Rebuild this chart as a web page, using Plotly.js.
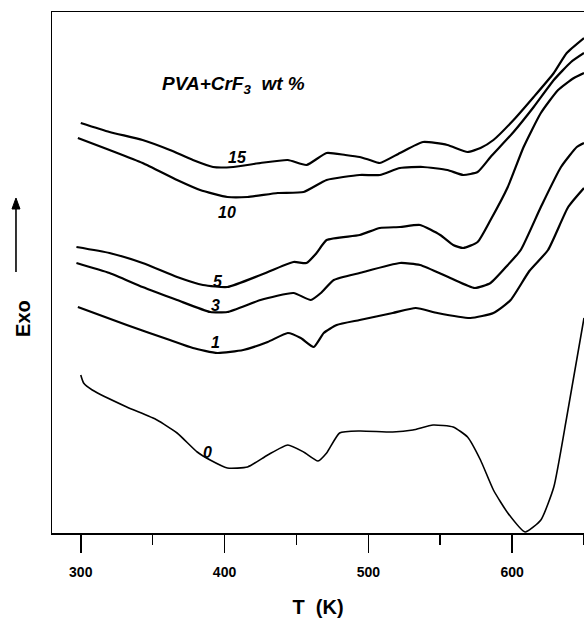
<!DOCTYPE html>
<html>
<head>
<meta charset="utf-8">
<script src="https://cdn.plot.ly/plotly-3.0.1.min.js"></script>
<style>html,body{margin:0;padding:0;background:#fff;}#chart{width:584px;height:618px;}</style>
</head>
<body>
<div id="chart"></div>
<script>
// Temperatures (K) and exo heat flow (arbitrary units)
const T0 = [300,302,308,332,353,367,381,390,402,416,430,444,455,465,471,480,494,517,531,545,559,569,578,587,597,609,620,629,638,650];
const Y0 = [158,150,143,126,113,100,81,73,65,66,78,88,81,72,80,100,102,101,103,108,106,96,73,43,20,1,13,46,116,215];

const T1 = [298,332,362,378,395,413,430,444,453,462,469,478,494,517,533,548,571,587,599,612,625,639,650];
const Y1 = [226,208,193,185,180,183,191,200,195,186,200,208,213,220,225,220,215,220,233,262,283,326,345];

const T3 = [297,320,343,367,390,402,425,448,460,467,476,494,522,536,557,574,585,597,606,620,634,645,650];
const Y3 = [270,260,246,233,221,221,233,240,233,240,253,260,270,268,255,245,250,268,283,326,366,386,390];

const T5 = [297,320,343,367,385,402,425,448,457,464,471,494,508,522,536,550,559,566,576,585,597,608,620,632,643,650];
const Y5 = [286,280,270,256,248,246,258,271,270,280,293,298,305,306,308,298,288,285,291,313,346,386,420,443,455,460];

const T10 = [298,320,343,367,383,402,416,437,455,471,494,508,522,538,555,566,576,585,601,615,629,641,650];
const Y10 = [395,383,370,353,343,336,336,340,341,353,358,358,365,366,363,358,361,376,401,426,453,471,480];

const T15 = [300,320,343,362,378,392,406,425,444,457,471,484,494,501,508,522,538,555,569,578,587,601,615,629,638,650];
const Y15 = [410,401,393,383,373,366,366,370,373,368,380,378,376,373,370,380,391,388,381,385,393,413,436,460,480,495];

const seriesNames = ['0','1','3','5','10','15'];
const seriesT = [T0,T1,T3,T5,T10,T15];
const seriesY = [Y0,Y1,Y3,Y5,Y10,Y15];

// label anchor points (T, y) for each curve's wt% label
const labelT = [388,394,393.5,395.5,402,409];
const labelY = [81,191,228,252,321,376];

const xTicks = [300,400,500,600];

const traces = seriesNames.map((n,i)=>({
  x: seriesT[i], y: seriesY[i], type:'scatter', mode:'lines', name: n + ' wt %',
  line:{color:'#000', width: i===0 ? 1.6 : 2.2, shape:'spline', smoothing:0.5},
  hoverinfo:'skip', showlegend:false
}));

const annotations = seriesNames.map((n,i)=>({
  x: labelT[i], y: labelY[i], xref:'x', yref:'y', text:'<b><i>'+n+'</i></b>',
  showarrow:false, font:{family:'Liberation Sans, Arial, sans-serif', size:16, color:'#000'},
  xanchor:'center', yanchor:'middle'
}));

annotations.push({
  xref:'paper', yref:'paper', x:0.203, y:0.86, xanchor:'left', yanchor:'middle',
  text:'<b><i>PVA+CrF<sub>3</sub>  wt %</i></b>', showarrow:false,
  font:{family:'Liberation Sans, Arial, sans-serif', size:19, color:'#000'}
});
annotations.push({
  xref:'paper', yref:'paper', x:-0.0545, y:0.411, xanchor:'center', yanchor:'middle',
  text:'<b>Exo</b>', textangle:-90, showarrow:false,
  font:{family:'Liberation Sans, Arial, sans-serif', size:20, color:'#000'}
});

// "Exo" direction arrow (shaft + head), in paper coordinates
const shapes = [
  {type:'line', xref:'paper', yref:'paper', x0:-0.0677, x1:-0.0677, y0:0.501, y1:0.626,
   line:{color:'#000', width:1.6}},
  {type:'path', xref:'paper', yref:'paper', path:'M -0.0677 0.643 L -0.0752 0.6219 L -0.0602 0.6219 Z',
   fillcolor:'#000', line:{color:'#000', width:1}}
];

const layout = {
  width:584, height:618,
  margin:{l:52, r:0, t:12, b:85},
  paper_bgcolor:'#fff', plot_bgcolor:'#fff',
  showlegend:false,
  xaxis:{
    range:[280,650], tickvals:xTicks, ticks:'outside', ticklen:18, tickwidth:1.5, tickcolor:'#000',
    ticklabelstandoff:8,
    minor:{dtick:50, tick0:300, ticks:'outside', ticklen:10, tickwidth:1.5, tickcolor:'#000', showgrid:false},
    showline:true, linewidth:1.5, linecolor:'#000', mirror:true, showgrid:false, zeroline:false,
    tickfont:{family:'Liberation Sans, Arial, sans-serif', size:14, color:'#000', weight:'bold'},
    title:{text:'<b>T  (K)</b>', font:{family:'Liberation Sans, Arial, sans-serif', size:20, color:'#000'}, standoff:22}
  },
  yaxis:{
    range:[0,521], showticklabels:false, ticks:'', showline:true, linewidth:1.5, linecolor:'#000',
    mirror:false, showgrid:false, zeroline:false
  },
  shapes: shapes,
  annotations: annotations
};

Plotly.newPlot('chart', traces, layout, {staticPlot:true, displayModeBar:false});
</script>
</body>
</html>
